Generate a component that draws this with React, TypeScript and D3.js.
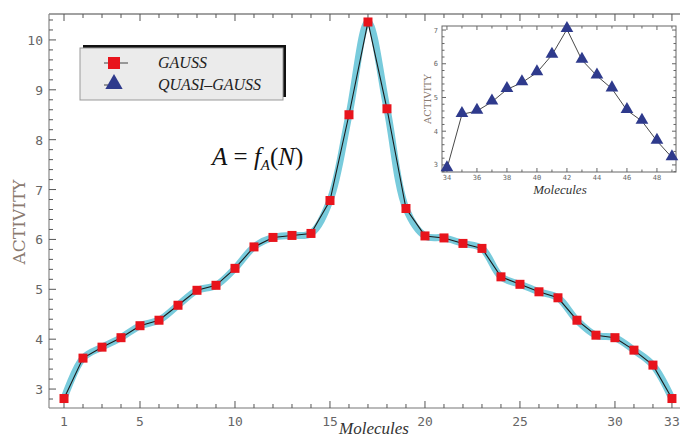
import React from "react";
import * as d3 from "d3";

const width = 680;
const height = 439;

// main series: GAUSS, molecules 1..33
const molecules = d3.range(1, 34);
const gauss = [
  2.81, 3.62, 3.84, 4.03, 4.27, 4.38, 4.68, 4.98, 5.08, 5.42, 5.85, 6.04,
  6.08, 6.12, 6.78, 8.5, 10.36, 8.62, 6.62, 6.07, 6.03, 5.92, 5.82, 5.25,
  5.1, 4.95, 4.83, 4.38, 4.08, 4.03, 3.78, 3.48, 2.81,
];
const xTickLabels = [1, 5, 10, 15, 20, 25, 30, 33];
const yTickLabels = [3, 4, 5, 6, 7, 8, 9, 10];

// inset series: QUASI-GAUSS, molecules 34..49
const insetMolecules = d3.range(34, 50);
const quasi = [
  2.89, 4.5, 4.6, 4.87, 5.24, 5.44, 5.74, 6.26, 7.02, 6.11, 5.64, 5.26, 4.62,
  4.3, 3.71, 3.22,
];
const insetXTicks = [34, 36, 38, 40, 42, 44, 46, 48];
const insetYTicks = [3, 4, 5, 6, 7];

const labelColor = "#8a7a70";
const tickFont = "'DejaVu Sans Mono', monospace";
const serif = "'Liberation Serif', serif";

const frame = { left: 49, right: 690, top: 14, bottom: 408 };
const inset = { left: 442, right: 676, top: 26, bottom: 172 };

const x = d3.scaleLinear().domain([0.21, 33.95]).range([frame.left, frame.right]);
const y = d3.scaleLinear().domain([2.62, 10.52]).range([frame.bottom, frame.top]);

const ix = d3.scaleLinear().domain([33.67, 49.27]).range([inset.left, inset.right]);
const iy = d3.scaleLinear().domain([2.79, 7.12]).range([inset.bottom, inset.top]);

const triangle = d3.symbol().type(d3.symbolTriangle);

export default function App() {
  const pts = molecules.map((m, i) => [x(m), y(gauss[i])] as [number, number]);
  const smooth = d3.line().curve(d3.curveCatmullRom.alpha(0.5))(pts) || "";
  const straight = d3.line()(pts) || "";

  const ipts = insetMolecules.map((m, i) => [ix(m), iy(quasi[i])] as [number, number]);
  const iline = d3.line()(ipts) || "";

  const minorX = d3.range(1, 34);
  const minorY = d3.range(2.8, 10.41, 0.2);
  const insetMinorX = d3.range(34, 50);
  const insetMinorY = d3.range(2.8, 7.11, 0.2);

  return (
    <svg
      width={width}
      height={height}
      style={{ position: "absolute", left: 0, top: 0, background: "#fff" }}
    >
      {/* frame lines */}
      <line x1={frame.left} x2={frame.right} y1={frame.top} y2={frame.top} stroke="#444" strokeWidth={1.2} />
      <line x1={frame.left} x2={frame.right} y1={frame.bottom} y2={frame.bottom} stroke="#777" strokeWidth={1.2} />
      <line x1={frame.left} x2={frame.left} y1={frame.top} y2={frame.bottom} stroke="#888" strokeWidth={1.2} />

      {/* x ticks, bottom and top */}
      {minorX.map((v) => {
        const major = xTickLabels.includes(v);
        const len = major ? 7 : 4;
        return (
          <g key={"xt" + v}>
            <line x1={x(v)} x2={x(v)} y1={frame.bottom} y2={frame.bottom - len} stroke="#555" />
            <line x1={x(v)} x2={x(v)} y1={frame.top} y2={frame.top + len} stroke="#555" />
          </g>
        );
      })}
      {xTickLabels.map((v) => (
        <text
          key={"xl" + v}
          x={x(v)}
          y={frame.bottom + 18}
          textAnchor="middle"
          fontFamily={tickFont}
          fontSize={13}
          fill="#666"
        >
          {v}
        </text>
      ))}

      {/* y ticks */}
      {minorY.map((v, i) => {
        const major = Math.abs(v - Math.round(v)) < 0.01;
        return (
          <line
            key={"yt" + i}
            x1={frame.left}
            x2={frame.left + (major ? 7 : 4)}
            y1={y(v)}
            y2={y(v)}
            stroke="#555"
          />
        );
      })}
      {yTickLabels.map((v) => (
        <text
          key={"yl" + v}
          x={frame.left - 6}
          y={y(v) + 5}
          textAnchor="end"
          fontFamily={tickFont}
          fontSize={13}
          fill="#666"
        >
          {v}
        </text>
      ))}

      {/* axis titles */}
      <text
        transform={`translate(25, 222) rotate(-90)`}
        textAnchor="middle"
        fontFamily="'DejaVu Serif', serif"
        fontSize={17}
        fill={labelColor}
      >
        ACTIVITY
      </text>
      <text
        x={374}
        y={434}
        textAnchor="middle"
        fontFamily={serif}
        fontStyle="italic"
        fontSize={17}
        fill="#333"
      >
        Molecules
      </text>

      {/* GAUSS series */}
      <path d={smooth} fill="none" stroke="#78cbdc" strokeWidth={7} strokeLinejoin="round" strokeLinecap="round" />
      <path d={straight} fill="none" stroke="#1a1a1a" strokeWidth={1.1} />
      {pts.map(([px, py], i) => (
        <rect key={"sq" + i} x={px - 4.5} y={py - 4.5} width={9} height={9} fill="#e8141c" />
      ))}

      {/* formula */}
      <text x={212} y={165} fontFamily={serif} fontSize={25} fill="#111">
        <tspan fontStyle="italic">A</tspan>
        <tspan> = </tspan>
        <tspan fontStyle="italic">f</tspan>
        <tspan fontStyle="italic" fontSize={15} dy={5}>A</tspan>
        <tspan dy={-5}>(</tspan>
        <tspan fontStyle="italic">N</tspan>
        <tspan>)</tspan>
      </text>

      {/* legend */}
      <rect x={83} y={45} width={203} height={52} fill="#111" />
      <rect x={80} y={48} width={203} height={52} fill="#ebebeb" stroke="#999" />
      <line x1={104} x2={128} y1={63} y2={63} stroke="#444" />
      <rect x={108} y={57} width={12} height={12} fill="#e8141c" />
      <line x1={104} x2={108} y1={85} y2={85} stroke="#444" />
      <path d={triangle.size(130)() || ""} transform="translate(114, 84)" fill="#2e3a8c" />
      <text x={158} y={68} fontFamily={serif} fontStyle="italic" fontSize={16} fill="#222">
        GAUSS
      </text>
      <text x={158} y={90} fontFamily={serif} fontStyle="italic" fontSize={16} fill="#222">
        QUASI–GAUSS
      </text>

      {/* inset */}
      <rect
        x={inset.left}
        y={inset.top}
        width={inset.right - inset.left}
        height={inset.bottom - inset.top}
        fill="#fff"
        stroke="#666"
      />
      {insetMinorX.map((v) => {
        const len = v % 2 === 0 ? 4 : 2.5;
        return (
          <g key={"ixt" + v}>
            <line x1={ix(v)} x2={ix(v)} y1={inset.bottom} y2={inset.bottom - len} stroke="#666" />
            <line x1={ix(v)} x2={ix(v)} y1={inset.top} y2={inset.top + len} stroke="#666" />
          </g>
        );
      })}
      {insetMinorY.map((v, i) => {
        const len = Math.abs(v - Math.round(v)) < 0.01 ? 4 : 2.5;
        return (
          <g key={"iyt" + i}>
            <line x1={inset.left} x2={inset.left + len} y1={iy(v)} y2={iy(v)} stroke="#666" />
            <line x1={inset.right} x2={inset.right - len} y1={iy(v)} y2={iy(v)} stroke="#666" />
          </g>
        );
      })}
      {insetXTicks.map((v) => (
        <text
          key={"ixl" + v}
          x={ix(v)}
          y={inset.bottom + 8}
          textAnchor="middle"
          fontFamily={tickFont}
          fontSize={7}
          fill="#666"
        >
          {v}
        </text>
      ))}
      {insetYTicks.map((v) => (
        <text
          key={"iyl" + v}
          x={inset.left - 4}
          y={iy(v) + 2.5}
          textAnchor="end"
          fontFamily={tickFont}
          fontSize={7}
          fill="#666"
        >
          {v}
        </text>
      ))}
      <text
        transform={`translate(431, 99) rotate(-90)`}
        textAnchor="middle"
        fontFamily="'DejaVu Serif', serif"
        fontSize={10}
        fill={labelColor}
      >
        ACTIVITY
      </text>
      <text
        x={560}
        y={194}
        textAnchor="middle"
        fontFamily={serif}
        fontStyle="italic"
        fontSize={13}
        fill="#333"
      >
        Molecules
      </text>
      <path d={iline} fill="none" stroke="#333" strokeWidth={0.9} />
      {ipts.map(([px, py], i) => (
        <path
          key={"tr" + i}
          d={triangle.size(70)() || ""}
          transform={`translate(${px}, ${py - 1})`}
          fill="#2e3a8c"
        />
      ))}
    </svg>
  );
}
